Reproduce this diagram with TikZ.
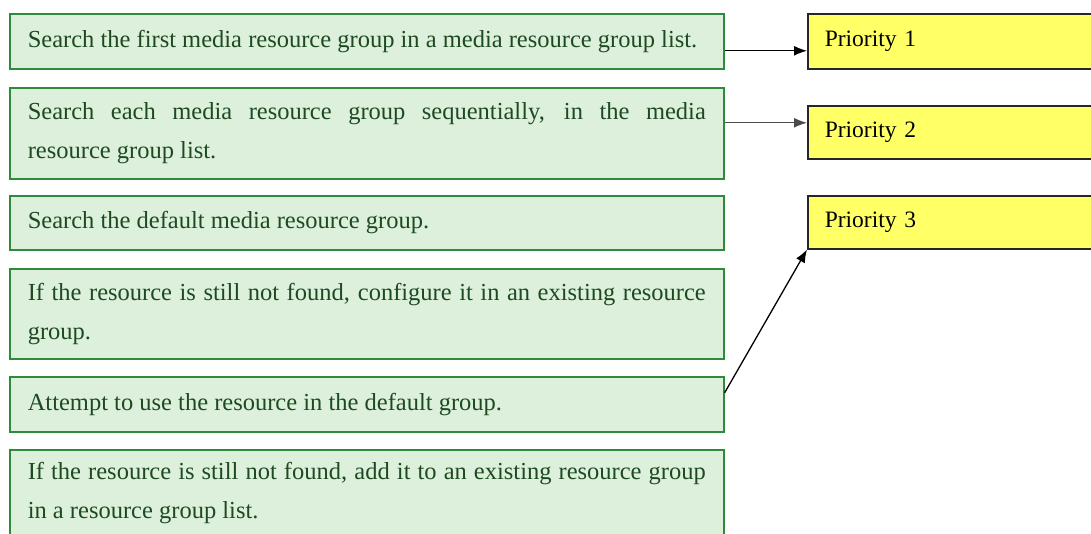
\documentclass[tikz,border=0pt]{standalone}
\usepackage{fontspec}
\setmainfont{Liberation Serif}
\usetikzlibrary{arrows.meta}
\definecolor{boxgreen}{HTML}{DCF0DC}
\definecolor{linegreen}{HTML}{2E8B3C}
\definecolor{textgreen}{HTML}{1E4A22}
\definecolor{prioyellow}{HTML}{FFFF66}
\tikzset{
  stepbox/.style={draw=linegreen, fill=boxgreen, line width=1.6pt, anchor=north west,
    text=textgreen, text width=678pt, inner xsep=17pt, inner ysep=0pt, align=justify,
    font=\fontsize{24.5}{39}\selectfont, minimum width=714pt, minimum height=#1},
  priobox/.style={draw=black!85, fill=prioyellow, line width=1.5pt, anchor=north west,
    text width=260pt, inner xsep=17pt, inner ysep=0pt, align=left,
    font=\fontsize{23.5}{39}\selectfont, minimum width=294pt, minimum height=#1},
}
\begin{document}
\begin{tikzpicture}[x=1pt,y=-1pt]
      \useasboundingbox (0,0) rectangle (1091,533);
      \fill[white] (0,0) rectangle (1091,533);
      % steps
      \node[stepbox=55pt] (g1) at (9,13) {Search the first media resource group in a media resource group list.};
      \node[stepbox=91pt] (g2) at (9,87) {Search each media resource group sequentially, in the media\linebreak resource group list.};
      \node[stepbox=54pt] (g3) at (9,195) {Search the default media resource group.};
      \node[stepbox=90pt] (g4) at (9,268) {If the resource is still not found, configure it in an existing resource group.};
      \node[stepbox=55pt] (g5) at (9,376) {Attempt to use the resource in the default group.};
      \node[stepbox=86pt] (g6) at (9,449) {If the resource is still not found, add it to an existing resource group\linebreak in a resource group list.};
      % priorities
      \node[priobox=55pt] (p1) at (807,13) {Priority 1};
      \node[priobox=53pt] (p2) at (807,105) {Priority 2};
      \node[priobox=53pt] (p3) at (807,195) {Priority 3};
      \begin{scope}[-{Latex[length=13pt,width=10pt]}, line width=1.3pt]
        \draw ([yshift=-9.5pt]g1.east) -- ([yshift=-9.5pt]g1.east -| p1.west);
        \draw[black!70] ([yshift=10.5pt]g2.east) -- ([yshift=10.5pt]g2.east -| p2.west);
        \draw ([yshift=11.5pt]g5.east) -- (p3.south west);
      \end{scope}
    \end{tikzpicture}
\end{document}
